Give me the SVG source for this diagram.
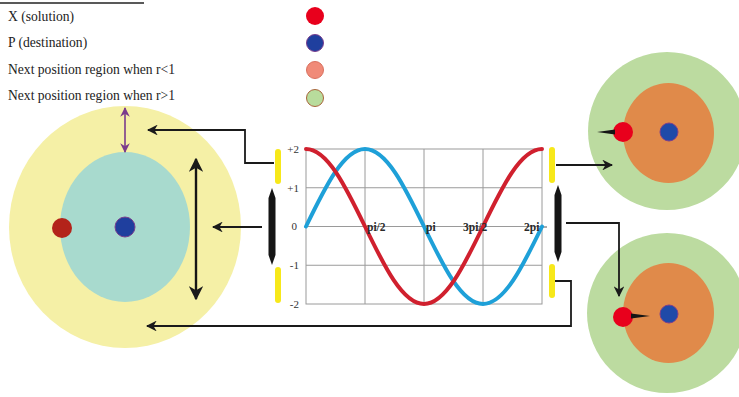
<svg xmlns="http://www.w3.org/2000/svg" width="739" height="397" viewBox="0 0 739 397">
<style>
.leg{font-family:"Liberation Serif","Times New Roman",serif;font-size:13.6px;fill:#222}
.ax{font-family:"Liberation Serif","Times New Roman",serif;font-size:11px;fill:#333}
.axb{font-family:"Liberation Serif","Times New Roman",serif;font-size:11.5px;font-weight:bold;fill:#2a2a2a}
.grid{stroke:#9a9a9a;stroke-width:1;fill:none}
.con{stroke:#1a1a1a;stroke-width:1.8;fill:none}
.yel{fill:#f7e81a}
.blk{fill:#151515}
</style>
<defs>
<marker id="ah" viewBox="0 0 10 10" refX="9" refY="5" markerWidth="6" markerHeight="6" orient="auto-start-reverse" markerUnits="strokeWidth">
<path d="M0,0 L10,5 L0,10 L3,5 Z" fill="#1a1a1a"/>
</marker>
<marker id="ahp" viewBox="0 0 10 10" refX="9" refY="5" markerWidth="6" markerHeight="6" orient="auto-start-reverse" markerUnits="strokeWidth">
<path d="M0,0 L10,5 L0,10 L3,5 Z" fill="#7a3b8c"/>
</marker>
</defs>
<rect width="739" height="397" fill="#ffffff"/>
<line x1="0" y1="3" x2="144" y2="3" stroke="#222" stroke-width="1.5"/>

<g id="legend">
<text class="leg" x="8" y="21">X (solution)</text>
<text class="leg" x="8" y="47">P (destination)</text>
<text class="leg" x="8" y="74">Next position region when r&lt;1</text>
<text class="leg" x="8" y="100">Next position region when r&gt;1</text>
<circle cx="315" cy="16" r="9" fill="#e8001c"/>
<circle cx="315" cy="43" r="8.5" fill="#1f3f9e" stroke="#7a3e8e" stroke-width="1"/>
<circle cx="315" cy="70" r="8.5" fill="#f08a78" stroke="#d9705e" stroke-width="1"/>
<circle cx="315" cy="98" r="8.5" fill="#b8dc9c" stroke="#a8643a" stroke-width="1"/>
</g>

<g id="left-region">
<ellipse cx="125" cy="227" rx="116" ry="121" fill="#f5f0a6"/>
<ellipse cx="125" cy="227" rx="65" ry="75" fill="#a8dace"/>
<circle cx="62" cy="228" r="10" fill="#b3231a"/>
<circle cx="125" cy="227" r="10" fill="#1f3f9e" stroke="#7a3e8e" stroke-width="1"/>
<line x1="125" y1="108" x2="125" y2="152" stroke="#7a3b8c" stroke-width="1.6" marker-start="url(#ahp)" marker-end="url(#ahp)"/>
<line x1="196" y1="159" x2="196" y2="299" stroke="#151515" stroke-width="2.4" marker-start="url(#ah)" marker-end="url(#ah)"/>
</g>

<g id="chart">
<rect class="grid" x="306" y="149" width="236" height="155"/>
<line class="grid" x1="365" y1="149" x2="365" y2="304"/>
<line class="grid" x1="424" y1="149" x2="424" y2="304"/>
<line class="grid" x1="483" y1="149" x2="483" y2="304"/>
<line class="grid" x1="306" y1="187.75" x2="542" y2="187.75"/>
<line class="grid" x1="306" y1="226.5" x2="542" y2="226.5"/>
<line class="grid" x1="306" y1="265.25" x2="542" y2="265.25"/>
<line x1="542" y1="227" x2="547" y2="227" stroke="#555" stroke-width="1"/>
<text class="ax" x="299" y="153" text-anchor="end">+2</text>
<text class="ax" x="299" y="192" text-anchor="end">+1</text>
<text class="ax" x="297" y="230" text-anchor="end">0</text>
<text class="ax" x="299" y="269" text-anchor="end">-1</text>
<text class="ax" x="299" y="308" text-anchor="end">-2</text>
<path d="M306,226.5 C325.24,186.8 343.65,149 365,149 C386.35,149 404.76,186.8 424,226.5 C443.24,266.2 461.65,304 483,304 C504.35,304 522.76,266.2 542,226.5" fill="none" stroke="#1ea0d8" stroke-width="4" stroke-linecap="round"/>
<path d="M306,149 C327.35,149 345.76,186.8 365,226.5 C384.24,266.2 402.65,304 424,304 C445.35,304 463.76,266.2 483,226.5 C502.24,186.8 520.65,149 542,149" fill="none" stroke="#d0202e" stroke-width="4" stroke-linecap="round"/>
<text class="axb" x="367" y="231">pi/2</text>
<text class="axb" x="426" y="231">pi</text>
<text class="axb" x="463" y="231">3pi/2</text>
<text class="axb" x="524" y="231">2pi</text>
</g>

<g id="left-bars">
<rect class="yel" x="275" y="149" width="6" height="35" rx="3"/>
<path class="blk" d="M272,188 L275.5,198 L275.5,255 L272,265 L268.5,255 L268.5,198 Z"/>
<rect class="yel" x="275" y="267" width="6" height="36" rx="3"/>
</g>

<g id="right-bars">
<rect class="yel" x="549" y="147" width="6" height="36" rx="3"/>
<path class="blk" d="M558,185 L561.5,195 L561.5,252 L558,262 L554.5,252 L554.5,195 Z"/>
<rect class="yel" x="549" y="264" width="6" height="34" rx="3"/>
</g>

<g id="top-right-region">
<circle cx="667" cy="131" r="79" fill="#bcdba0"/>
<ellipse cx="668.5" cy="133" rx="45.5" ry="50" fill="#e08a4a"/>
<circle cx="669" cy="132" r="9" fill="#1f4aa8" stroke="#7a3e8e" stroke-width="1"/>
<circle cx="623" cy="132" r="10" fill="#e8001c"/>
<path d="M597,132 L615,129.5 L615,134.5 Z" fill="#151515"/>
</g>

<g id="bottom-right-region">
<circle cx="667" cy="313" r="80" fill="#bcdba0"/>
<ellipse cx="668.5" cy="313" rx="45.5" ry="50" fill="#e08a4a"/>
<circle cx="669" cy="314" r="9" fill="#1f4aa8" stroke="#7a3e8e" stroke-width="1"/>
<circle cx="623" cy="317" r="10" fill="#e8001c"/>
<path d="M650,316 L631,313.5 L631,318.5 Z" fill="#151515"/>
</g>

<g id="connectors">
<polyline class="con" points="274,163 245,163 245,130 148,130" marker-end="url(#ah)"/>
<line class="con" x1="262" y1="227" x2="213" y2="227" marker-end="url(#ah)"/>
<polyline class="con" points="555,281 571,281 571,326 147,326" marker-end="url(#ah)"/>
<line class="con" x1="556" y1="165" x2="612" y2="165" marker-end="url(#ah)"/>
<polyline class="con" points="566,223 619,223 619,296" marker-end="url(#ah)"/>
</g>
</svg>
